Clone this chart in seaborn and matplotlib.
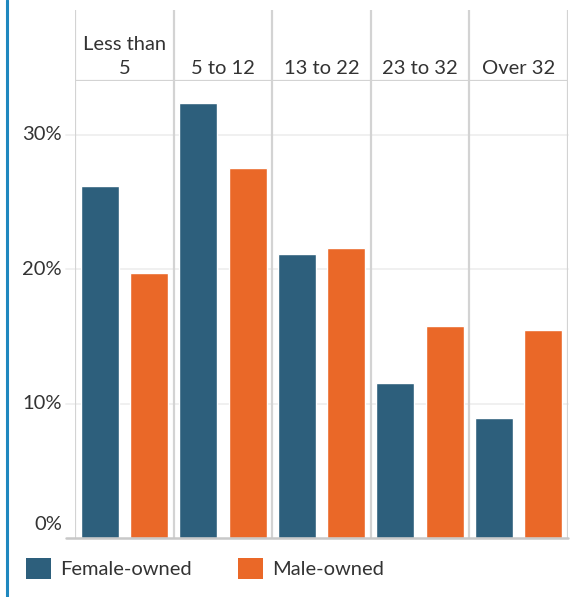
import matplotlib
matplotlib.use("Agg")
import matplotlib.pyplot as plt
from matplotlib.lines import Line2D
from matplotlib.patches import Patch
from matplotlib.transforms import offset_copy
import seaborn as sns
import pandas as pd

# Share of firms by firm age (years), split by owner gender
categories = ["Less than\n5", "5 to 12", "13 to 22", "23 to 32", "Over 32"]
groups = ["Female-owned", "Male-owned"]
female_share = [26.2, 32.4, 21.1, 11.5, 8.9]
male_share = [19.7, 27.5, 21.6, 15.8, 15.5]
y_ticks = [0, 10, 20, 30]
tick_labels = ["0%", "10%", "20%", "30%"]
palette = {"Female-owned": "#2D5F7C", "Male-owned": "#EA6828"}

df = pd.DataFrame({
    "age": categories * 2,
    "owner": [groups[0]] * len(categories) + [groups[1]] * len(categories),
    "share": female_share + male_share,
})

sns.set_theme(style="white")
plt.rcParams["font.family"] = ["Lato", "DejaVu Sans"]
TEXT = "#333333"
SEP = "#d3d3d3"

W, H = 576, 597
fig = plt.figure(figsize=(W / 100, H / 100), dpi=100)


def box(l, t, r, b):
    return [l / W, 1 - b / H, (r - l) / W, (b - t) / H]


ax = fig.add_axes(box(75, 81, 568, 538))
hx = fig.add_axes(box(75, 10, 568, 81))

sns.barplot(data=df, x="age", y="share", hue="owner", order=categories,
            hue_order=groups, palette=palette, width=1.0, gap=0.23,
            saturation=1, legend=False, ax=ax, zorder=2)

n = len(categories)
ax.set_xlim(-0.5, n - 0.5)
ax.set_ylim(0, 34.0)
for s in ax.spines.values():
    s.set_visible(False)
ax.set_xticks([])
ax.set_yticks([])
ax.set_xlabel("")
ax.set_ylabel("")

# light gridlines and the zero baseline, reaching into the label gutter
ext = -9 / 493
for v in y_ticks[1:]:
    ax.axhline(v, xmin=ext, xmax=1, color="#efefef", lw=1.3, zorder=0, clip_on=False)
ax.axhline(0, xmin=ext, xmax=1, color="#c8c8c8", lw=1.8, zorder=3, clip_on=False)

# y labels
ytr = ax.get_yaxis_transform()
for v, lab in zip(y_ticks, tick_labels):
    tr = offset_copy(ytr, fig=fig, x=-13, y=13 if v == 0 else 0, units="dots")
    ax.text(0, v, lab, transform=tr, ha="right", va="center",
            fontsize=14.5, color=TEXT)

# panel separators
for i in range(n + 1):
    ax.axvline(i - 0.5, color=SEP, lw=1.6, zorder=1)

# header row with category names
hx.set_xlim(-0.5, n - 0.5)
hx.set_ylim(0, 1)
hx.axis("off")
for i in range(n + 1):
    hx.axvline(i - 0.5, color=SEP, lw=1.6)
hx.axhline(0, color=SEP, lw=1.6)
for i, c in enumerate(categories):
    hx.text(i, 0.06, c, ha="center", va="bottom", fontsize=14.5, color=TEXT,
            linespacing=1.45)

# left accent line
fig.add_artist(Line2D([7 / W, 7 / W], [0, 1], color="#1f88bf", lw=2.2))

# legend
handles = [Patch(facecolor=palette[g], edgecolor="none", label=g) for g in groups]
fig.legend(handles=handles, loc="lower left", bbox_to_anchor=(16 / W, 8 / H),
           ncol=2, frameon=False, fontsize=14.5, handlelength=1.25,
           handleheight=1.25, handletextpad=0.45, columnspacing=2.3,
           borderpad=0, labelcolor=TEXT)

fig.savefig("out.png", dpi=100, facecolor="white")
